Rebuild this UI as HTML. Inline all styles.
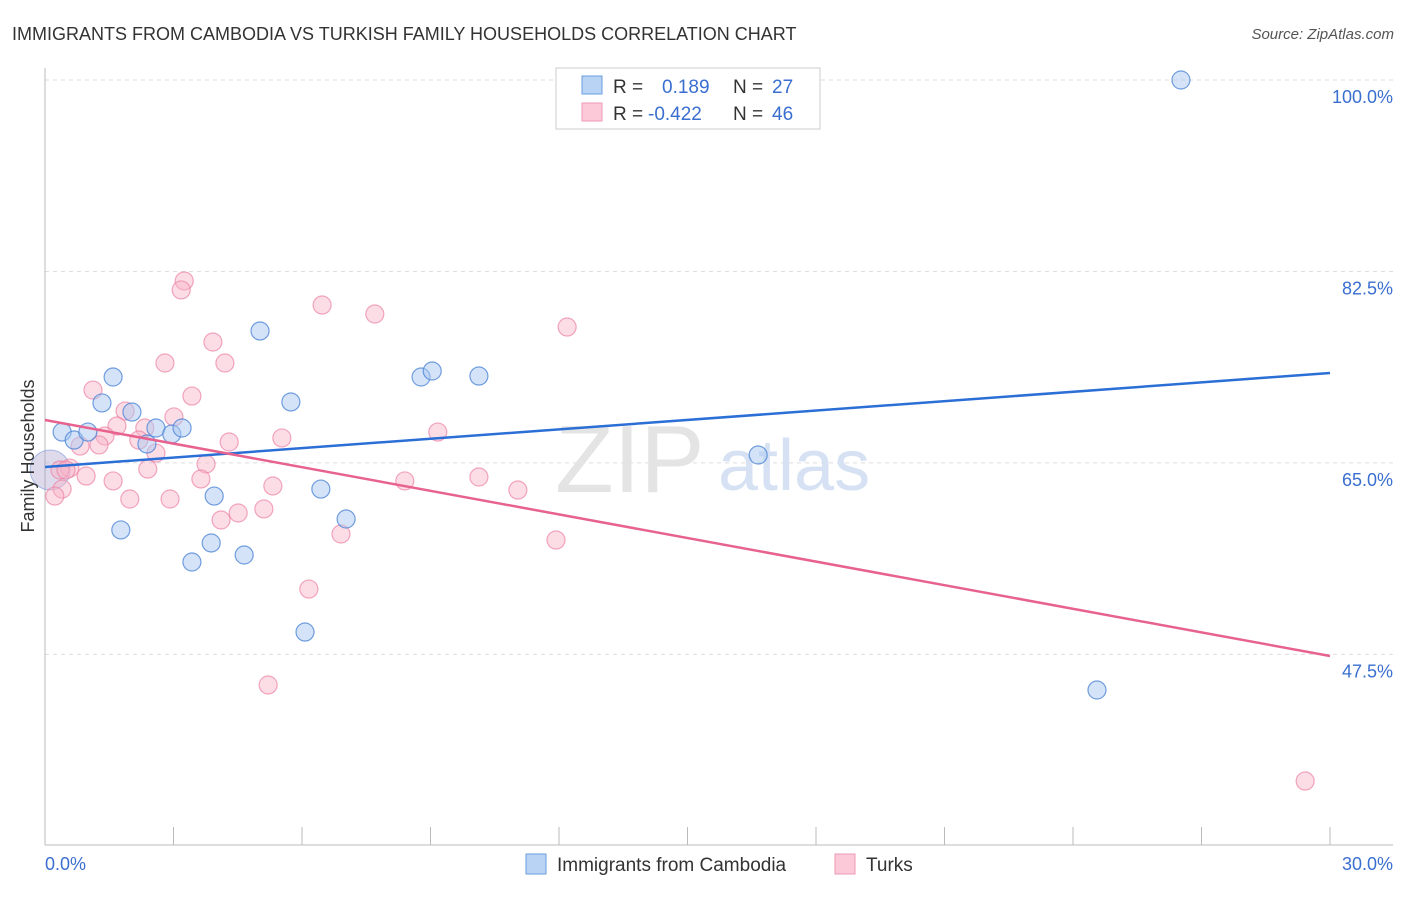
<!DOCTYPE html>
<html><head><meta charset="utf-8"><style>
body{margin:0;background:#fff;font-family:"Liberation Sans",sans-serif}
svg text{font-family:"Liberation Sans",sans-serif}
</style></head><body>
<svg width="1406" height="892" viewBox="0 0 1406 892" xmlns="http://www.w3.org/2000/svg">
<text x="12" y="40" font-size="18" fill="#333">IMMIGRANTS FROM CAMBODIA VS TURKISH FAMILY HOUSEHOLDS CORRELATION CHART</text>
<text x="1394" y="39" font-size="15" fill="#555" font-style="italic" text-anchor="end">Source: ZipAtlas.com</text>
<g id="grid"></g>
<g id="axes"></g>
<text x="555" y="492" font-size="96" fill="#e4e4e4" font-family="Liberation Serif">ZIP</text>
<text x="718" y="490" font-size="72" fill="#d6e2f4">atlas</text>
<g id="pts"></g>
<g id="lines"></g>
<text transform="translate(34,456) rotate(-90)" font-size="18" fill="#333" text-anchor="middle">Family Households</text>
<text x="45" y="870" font-size="18" fill="#3a6fd0">0.0%</text>
<text x="1393" y="870" font-size="18" fill="#3a6fd0" text-anchor="end">30.0%</text>
<g>
<rect x="556" y="68" width="264" height="61" fill="#fff" stroke="#ccc"/>
<rect x="582" y="76" width="20" height="18" fill="#b9d3f5" stroke="#6a9ee0"/>
<rect x="582" y="103" width="20" height="18" fill="#fbc9d8" stroke="#ef9ab6"/>
<text x="613" y="93" font-size="19" fill="#333">R =</text>
<text x="662" y="93" font-size="19" fill="#3a6fd0">0.189</text>
<text x="733" y="93" font-size="19" fill="#333">N =</text>
<text x="772" y="93" font-size="19" fill="#3a6fd0">27</text>
<text x="613" y="120" font-size="19" fill="#333">R =</text>
<text x="648" y="120" font-size="19" fill="#3a6fd0">-0.422</text>
<text x="733" y="120" font-size="19" fill="#333">N =</text>
<text x="772" y="120" font-size="19" fill="#3a6fd0">46</text>
</g>
<g>
<rect x="526" y="854" width="20" height="20" fill="#b9d3f5" stroke="#6a9ee0"/>
<text x="557" y="871" font-size="19" fill="#333">Immigrants from Cambodia</text>
<rect x="835" y="854" width="20" height="20" fill="#fbc9d8" stroke="#ef9ab6"/>
<text x="866" y="871" font-size="19" fill="#333">Turks</text>
</g>
</svg>
<script>
const yTicks=[100,82.5,65,47.5];
const yTickLabels=["100.0%","82.5%","65.0%","47.5%"];
const blueX=[26.52,1.59,1.33,2.03,0.40,0.68,1.00,2.59,2.38,2.96,3.20,5.02,5.74,8.78,9.04,10.13,3.95,1.77,3.88,3.43,4.65,6.44,7.03,6.07,16.65,24.56];
const blueY=[100.0,72.85,70.48,69.65,67.82,67.09,67.82,68.19,66.73,67.64,68.19,77.06,70.57,72.85,73.40,72.94,61.97,58.87,57.68,55.94,56.58,62.61,59.87,49.54,65.72,44.24];
const pinkX=[3.25,3.18,6.47,7.70,12.19,3.92,2.80,4.20,1.12,3.43,1.87,3.01,2.33,1.68,1.40,2.19,0.82,1.26,2.59,4.30,5.53,9.17,3.76,2.40,0.58,0.96,1.59,3.64,5.32,8.40,10.13,11.04,0.40,0.23,1.98,2.92,4.51,5.11,4.11,6.91,11.93,6.16,5.21,29.42,0.35,0.49];
const pinkY=[81.63,80.81,79.43,78.61,77.42,76.05,74.13,74.13,71.66,71.11,69.74,69.20,68.19,68.37,67.46,67.09,66.54,66.64,65.90,66.91,67.28,67.82,64.90,64.44,64.53,63.80,63.35,63.53,62.89,63.35,63.71,62.52,62.61,61.97,61.70,61.70,60.42,60.79,59.78,58.50,57.95,53.47,44.70,35.92,64.35,64.35];
const blueTrend=[64.63,73.22];
const pinkTrend=[68.92,47.35];
const NS="http://www.w3.org/2000/svg";
const X=v=>45+v/30*1285;
const Y=v=>80+(100-v)*10.94;
function mk(t,a,p){const e=document.createElementNS(NS,t);for(const k in a)e.setAttribute(k,a[k]);p.appendChild(e);return e;}
const grid=document.getElementById('grid'),axes=document.getElementById('axes'),pts=document.getElementById('pts'),lines=document.getElementById('lines');
yTicks.forEach((t,i)=>{
 const l=mk('line',{x1:45,x2:1393,y1:Y(t),y2:Y(t),stroke:'#ddd','stroke-dasharray':'4,4'},grid);
 
 
 const tx=mk('text',{x:1393,y:Y(t)+23,'font-size':18,fill:'#3a6fd0','text-anchor':'end'},grid);
 tx.textContent=yTickLabels[i];
 
 
});
mk('line',{x1:45,x2:45,y1:68,y2:845,stroke:'#bbb'},axes);
mk('line',{x1:45,x2:1393,y1:845,y2:845,stroke:'#bbb'},axes);
for(let i=1;i<=10;i++){
 const t=mk('line',{x1:X(i*3),x2:X(i*3),y1:827,y2:845,stroke:'#bbb'},axes);
 
 
}
const big1=mk('circle',{cx:X(0.12),cy:Y(64.35),r:20,fill:'rgba(160,150,200,0.35)',stroke:'rgba(120,150,220,0.6)'},pts);


pinkX.forEach((x,i)=>{
 const c=mk('circle',{cx:X(x),cy:Y(pinkY[i]),r:9,fill:'rgba(248,180,200,0.45)',stroke:'rgba(236,130,165,0.7)','stroke-width':1.2},pts);
 
 
});
blueX.forEach((x,i)=>{
 const c=mk('circle',{cx:X(x),cy:Y(blueY[i]),r:9,fill:'rgba(170,200,240,0.5)',stroke:'rgba(80,135,215,0.8)','stroke-width':1.2},pts);
 
 
});
const bl=mk('line',{x1:X(0),x2:X(30),y1:Y(blueTrend[0]),y2:Y(blueTrend[1]),stroke:'#2b6fd6','stroke-width':2.5},lines);


const pl=mk('line',{x1:X(0),x2:X(30),y1:Y(pinkTrend[0]),y2:Y(pinkTrend[1]),stroke:'#e8628f','stroke-width':2.5},lines);


</script>
</body></html>
